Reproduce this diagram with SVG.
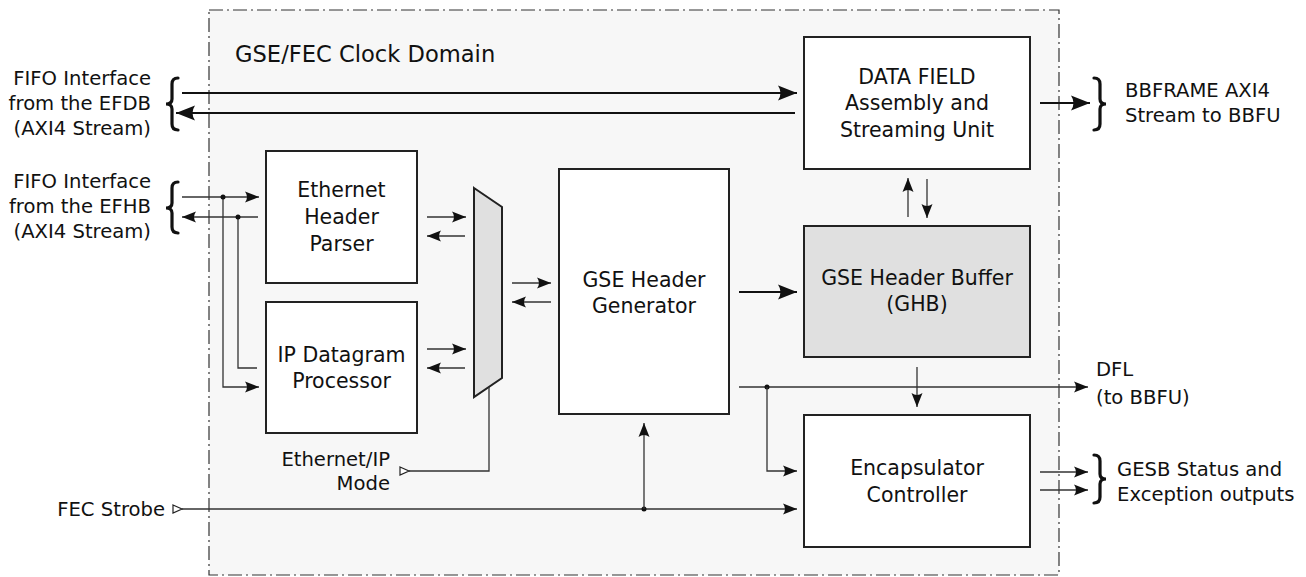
<svg xmlns="http://www.w3.org/2000/svg" width="1306" height="577" viewBox="0 0 1306 577">
<style>
text{font-family:"DejaVu Sans","Liberation Sans",sans-serif;fill:#111;font-size:20.5px}
.c{text-anchor:middle}
.r{text-anchor:end}
.sl{font-size:19.6px}
.ttl{font-size:22.6px}
.box{fill:#fff;stroke:#222;stroke-width:2}
.grey{fill:#e0e0e0;stroke:#222;stroke-width:2}
.ln{fill:none;stroke:#333;stroke-width:1.3}
.th{fill:none;stroke:#111;stroke-width:2}
.br{fill:none;stroke:#111;stroke-width:3.2;stroke-linecap:round}
.s{marker-end:url(#a)}
.b{marker-end:url(#A)}
</style>
<defs>
<marker id="a" markerUnits="userSpaceOnUse" viewBox="-16 -8 18 16" markerWidth="18" markerHeight="16" refX="0" refY="0" orient="auto" overflow="visible">
<path d="M0,0 L-14,-5.5 Q-10,0 -14,5.5 Z" fill="#111"/>
</marker>
<marker id="A" markerUnits="userSpaceOnUse" viewBox="-20 -10 22 20" markerWidth="22" markerHeight="20" refX="0" refY="0" orient="auto" overflow="visible">
<path d="M0,0 L-19,-7.5 Q-14,0 -19,7.5 Z" fill="#111"/>
</marker>
</defs>
<g id="domain">
<rect x="209" y="10" width="850" height="565" fill="#f7f7f7" stroke="#333" stroke-width="1.2" stroke-dasharray="14,4,2,4"/>
<text class="ttl" x="235" y="62">GSE/FEC Clock Domain</text>
</g>
<g id="datafield">
<rect class="box" x="804" y="37" width="226" height="132"/>
<text class="c" x="917" y="84">DATA FIELD</text>
<text class="c" x="917" y="110">Assembly and</text>
<text class="c" x="917" y="137">Streaming Unit</text>
</g>
<g id="ethparser">
<rect class="box" x="266" y="151" width="151" height="132"/>
<text class="c" x="341.5" y="197">Ethernet</text>
<text class="c" x="341.5" y="224">Header</text>
<text class="c" x="341.5" y="251">Parser</text>
</g>
<g id="ipproc">
<rect class="box" x="266" y="302" width="151" height="131"/>
<text class="c" x="341.5" y="362">IP Datagram</text>
<text class="c" x="341.5" y="388">Processor</text>
</g>
<g id="mux">
<polygon class="grey" points="474,188 502,207 502,378 474,397"/>
</g>
<g id="gsegen">
<rect class="box" x="559" y="169" width="170" height="245"/>
<text class="c" x="644" y="287">GSE Header</text>
<text class="c" x="644" y="313">Generator</text>
</g>
<g id="ghb">
<rect class="grey" x="804" y="226" width="226" height="131"/>
<text class="c" x="917" y="285">GSE Header Buffer</text>
<text class="c" x="917" y="311">(GHB)</text>
</g>
<g id="encap">
<rect class="box" x="804" y="415" width="226" height="132"/>
<text class="c" x="917" y="475">Encapsulator</text>
<text class="c" x="917" y="502">Controller</text>
</g>
<g id="labels">
<text class="r sl" x="151" y="85">FIFO Interface</text>
<text class="r sl" x="151" y="110">from the EFDB</text>
<text class="r sl" x="151" y="135">(AXI4 Stream)</text>
<text class="r sl" x="151" y="188">FIFO Interface</text>
<text class="r sl" x="151" y="213">from the EFHB</text>
<text class="r sl" x="151" y="238">(AXI4 Stream)</text>
<text class="r sl" x="390" y="466">Ethernet/IP</text>
<text class="r sl" x="390" y="490">Mode</text>
<text class="r sl" x="165" y="516">FEC Strobe</text>
<text class="sl" x="1096" y="376">DFL</text>
<text class="sl" x="1096" y="404">(to BBFU)</text>
<text class="sl" x="1125" y="97">BBFRAME AXI4</text>
<text class="sl" x="1125" y="122">Stream to BBFU</text>
<text class="sl" x="1117" y="476">GESB Status and</text>
<text class="sl" x="1117" y="501">Exception outputs</text>
</g>
<g id="connectors">
<path class="br" d="M178,78 Q172,78 172,84 L172,99 Q172,104 166,104 Q172,104 172,109 L172,124 Q172,130 178,130"/>
<path class="br" d="M178,182 Q172,182 172,188 L172,203 Q172,208 166,208 Q172,208 172,213 L172,227 Q172,233 178,233"/>
<path class="br" d="M1094,78 Q1100,78 1100,84 L1100,99 Q1100,104 1106,104 Q1100,104 1100,109 L1100,124 Q1100,130 1094,130"/>
<path class="br" d="M1094,455 Q1100,455 1100,461 L1100,474 Q1100,479 1106,479 Q1100,479 1100,484 L1100,497 Q1100,503 1094,503"/>
<line class="th b" x1="182" y1="93" x2="797" y2="93"/>
<line class="th b" x1="795" y1="113" x2="176" y2="113"/>
<line class="th b" x1="1040" y1="103" x2="1090" y2="103"/>
<line class="th b" x1="739" y1="292" x2="797" y2="292"/>
<line class="ln s" x1="182" y1="197" x2="259" y2="197"/>
<line class="ln s" x1="258" y1="217" x2="182" y2="217"/>
<polyline class="ln s" points="223,197 223,387 259,387"/>
<polyline class="ln" points="238,217 238,368 257,368"/>
<circle cx="223" cy="197" r="2.5" fill="#111"/>
<circle cx="238" cy="217" r="2.5" fill="#111"/>
<line class="ln s" x1="427" y1="217" x2="466" y2="217"/>
<line class="ln s" x1="465" y1="236" x2="427" y2="236"/>
<line class="ln s" x1="427" y1="349" x2="466" y2="349"/>
<line class="ln s" x1="465" y1="368" x2="427" y2="368"/>
<line class="ln s" x1="512" y1="283" x2="551" y2="283"/>
<line class="ln s" x1="551" y1="302" x2="512" y2="302"/>
<line class="ln s" x1="908" y1="217" x2="908" y2="178"/>
<line class="ln s" x1="927" y1="179" x2="927" y2="218"/>
<line class="ln s" x1="917" y1="367" x2="917" y2="407"/>
<line class="ln s" x1="739" y1="387" x2="1088" y2="387"/>
<circle cx="767" cy="387" r="2.5" fill="#111"/>
<polyline class="ln s" points="767,387 767,471 797,471"/>
<polyline class="ln" points="489,387 489,471 409,471"/>
<polygon points="400,467 409,471 400,475" fill="#fff" stroke="#222" stroke-width="1.2"/>
<line class="ln s" x1="182" y1="509" x2="797" y2="509"/>
<polygon points="173,505 182,509 173,513" fill="#fff" stroke="#222" stroke-width="1.2"/>
<circle cx="644" cy="509" r="2.5" fill="#111"/>
<line class="ln s" x1="644" y1="509" x2="644" y2="423"/>
<line class="ln s" x1="1040" y1="472" x2="1088" y2="472"/>
<line class="ln s" x1="1040" y1="490" x2="1088" y2="490"/>
</g>
</svg>
